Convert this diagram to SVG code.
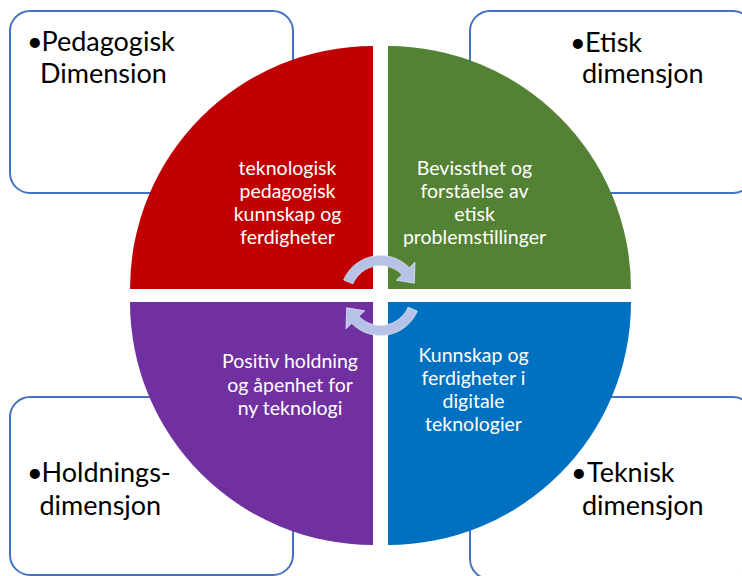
<svg xmlns="http://www.w3.org/2000/svg" width="742" height="576" viewBox="0 0 742 576">
<style>
.box{fill:#ffffff;stroke:#4472C4;stroke-width:2}
.outer{font-family:Lato,"Liberation Sans",sans-serif;font-size:27px;fill:#000000}
.inner{font-family:Lato,"Liberation Sans",sans-serif;font-size:19.5px;fill:#ffffff;text-anchor:middle}
.arrow{fill:#B6C2E6;stroke:#DDE3F3;stroke-width:0.8}
</style>
<rect width="742" height="576" fill="#ffffff"/>
<g id="box-pedagogisk">
<rect class="box" x="10" y="11" width="283" height="182" rx="20"/>
<text class="outer"><tspan x="27" y="51">•</tspan><tspan x="41.5">Pedagogisk</tspan><tspan x="40" y="83">Dimension</tspan></text>
</g>
<g id="box-etisk">
<rect class="box" x="470" y="11" width="283" height="182" rx="20"/>
<text class="outer"><tspan x="570" y="52">•</tspan><tspan x="585">Etisk</tspan><tspan x="582" y="83">dimensjon</tspan></text>
</g>
<g id="box-holdning">
<rect class="box" x="10" y="397" width="283" height="178" rx="20"/>
<text class="outer"><tspan x="27" y="482">•</tspan><tspan x="41.5">Holdnings-</tspan><tspan x="39.5" y="515">dimensjon</tspan></text>
</g>
<g id="box-teknisk">
<rect class="box" x="470" y="397" width="283" height="182" rx="20"/>
<text class="outer"><tspan x="571" y="482">•</tspan><tspan x="587">Teknisk</tspan><tspan x="582" y="515">dimensjon</tspan></text>
</g>
<g id="q-red">
<path d="M373,289 L130,289 A243,243 0 0 1 373,46 Z" fill="#C00000"/>
<text class="inner"><tspan x="287.5" y="174.5">teknologisk</tspan><tspan x="287.5" y="197.5">pedagogisk</tspan><tspan x="287.5" y="220.5">kunnskap og</tspan><tspan x="287.5" y="243.5">ferdigheter</tspan></text>
</g>
<g id="q-green">
<path d="M388,289 L388,46 A243,243 0 0 1 631,289 Z" fill="#548235"/>
<text class="inner"><tspan x="474.5" y="175">Bevissthet og</tspan><tspan x="474.5" y="198">forståelse av</tspan><tspan x="474.5" y="221">etisk</tspan><tspan x="474.5" y="244">problemstillinger</tspan></text>
</g>
<g id="q-purple">
<path d="M373,302 L373,545 A243,243 0 0 1 130,302 Z" fill="#7030A0"/>
<text class="inner"><tspan x="290" y="368">Positiv holdning</tspan><tspan x="290" y="391.5">og åpenhet for</tspan><tspan x="290" y="415">ny teknologi</tspan></text>
</g>
<g id="q-blue">
<path d="M388,302 L631,302 A243,243 0 0 1 388,545 Z" fill="#0070C0"/>
<text class="inner"><tspan x="473.5" y="361.5">Kunnskap og</tspan><tspan x="473.5" y="384.5">ferdigheter i</tspan><tspan x="473.5" y="407.5">digitale</tspan><tspan x="473.5" y="430.5">teknologier</tspan></text>
</g>
<g id="connectors">
<path id="arrow-top" class="arrow" d="M343.7,279.9 A40,40 0 0 1 409.3,267.7 L415,262.2 L414.3,283.2 L396.3,280.2 L402.1,274.7 A30,30 0 0 0 352.9,283.8 Z"/>
<path id="arrow-bottom" class="arrow" transform="rotate(180 380.5 295.5)" d="M343.7,279.9 A40,40 0 0 1 409.3,267.7 L415,262.2 L414.3,283.2 L396.3,280.2 L402.1,274.7 A30,30 0 0 0 352.9,283.8 Z"/>
</g>
</svg>
